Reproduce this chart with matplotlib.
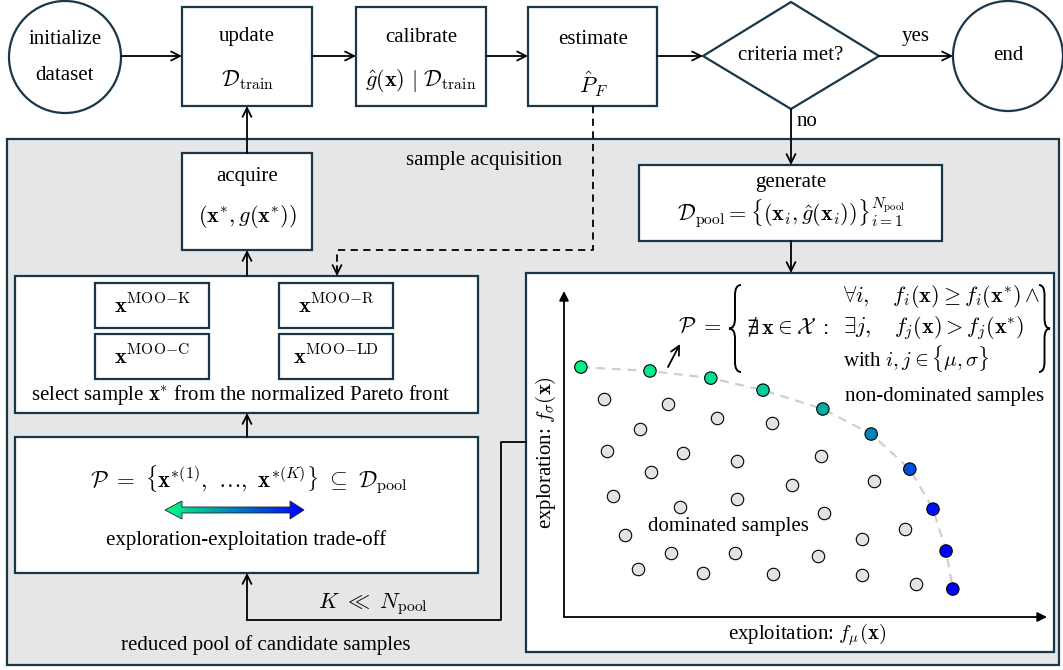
import numpy as np
import matplotlib.pyplot as plt
from matplotlib.colors import Normalize
from matplotlib.patches import Rectangle, Circle, Polygon, PathPatch
from matplotlib.path import Path

plt.rcParams['font.family'] = 'Liberation Serif'
plt.rcParams['mathtext.fontset'] = 'cm'

# candidate samples in the (exploitation, exploration) objective space
front_mu = [0.035, 0.178, 0.304, 0.412, 0.536, 0.636, 0.716, 0.764, 0.791, 0.805]
front_sigma = [0.769, 0.757, 0.735, 0.698, 0.640, 0.563, 0.455, 0.332, 0.203, 0.086]
dominated_mu = [0.083, 0.215, 0.317, 0.431, 0.157, 0.089, 0.246, 0.358, 0.532,
                0.180, 0.472, 0.642, 0.101, 0.358, 0.240, 0.538, 0.126, 0.706,
                0.617, 0.222, 0.354, 0.526, 0.153, 0.288, 0.433, 0.617, 0.729]
dominated_sigma = [0.671, 0.655, 0.612, 0.597, 0.578, 0.511, 0.505, 0.480, 0.495,
                   0.446, 0.406, 0.418, 0.372, 0.363, 0.338, 0.320, 0.252, 0.271,
                   0.240, 0.197, 0.197, 0.188, 0.148, 0.135, 0.132, 0.129, 0.102]

moo_labels = ['K', 'C', 'R', 'LD']

EDGE = '#1b3646'
FS = 15    # running text
MS = 16    # formulas
W, H = 1063, 670

fig = plt.figure(figsize=(W / 100, H / 100), dpi=100)
ax = fig.add_axes([0, 0, 1, 1])
ax.axis('off')


def box(x0, y0, x1, y1, fc='white', z=2):
    ax.add_patch(Rectangle((x0, y0), x1 - x0, y1 - y0, facecolor=fc,
                           edgecolor=EDGE, lw=1.6, zorder=z))


def arrow(p0, p1, style='->', ms=16):
    ax.annotate('', xy=p1, xytext=p0, zorder=4,
                arrowprops=dict(arrowstyle=style, color='k', lw=1.3,
                                shrinkA=0, shrinkB=0, mutation_scale=ms))


def label(x, y, s, size=FS, **kw):
    ax.text(x, y, s, fontsize=size, ha='center', va='center', zorder=5, **kw)


def brace(x_tip, x_end, y0, y1, w=10):
    xm = (x_tip + x_end) / 2
    ym = (y0 + y1) / 2
    verts = [(x_end, y0), (xm, y0), (xm, y0 + w), (xm, ym - w),
             (xm, ym), (x_tip, ym), (xm, ym), (xm, ym + w),
             (xm, y1 - w), (xm, y1), (x_end, y1)]
    codes = [Path.MOVETO, Path.CURVE3, Path.CURVE3, Path.LINETO,
             Path.CURVE3, Path.CURVE3, Path.CURVE3, Path.CURVE3,
             Path.LINETO, Path.CURVE3, Path.CURVE3]
    ax.add_patch(PathPatch(Path(verts, codes), fill=False, lw=1.4,
                           edgecolor='k', zorder=5))


# top row of the loop
ax.add_patch(Circle((65, 57), 56, facecolor='white', edgecolor=EDGE, lw=1.6, zorder=2))
label(65, 40, 'initialize')
label(65, 75, 'dataset')

box(182, 7, 312, 106)
label(247, 37, 'update')
label(247, 80, r'$\mathcal{D}_{\mathrm{train}}$', MS)

box(356, 7, 486, 106)
label(421, 37, 'calibrate')
label(421, 80, r'$\hat{g}(\mathbf{x})\ |\ \mathcal{D}_{\mathrm{train}}$', MS)

box(528, 7, 657, 106)
label(593, 39, 'estimate')
label(593, 84, r'$\hat{P}_F$', MS)

ax.add_patch(Polygon([(703, 56), (791, 2), (879, 56), (791, 109)], closed=True,
                     facecolor='white', edgecolor=EDGE, lw=1.6, zorder=2))
label(791, 56, 'criteria met?')

ax.add_patch(Circle((1008, 56), 55, facecolor='white', edgecolor=EDGE, lw=1.6, zorder=2))
label(1008, 56, 'end')

arrow((121, 56), (182, 56))
arrow((312, 56), (356, 56))
arrow((486, 56), (528, 56))
arrow((657, 56), (703, 56))
arrow((879, 56), (953, 56))
label(916, 37, 'yes')
label(807, 122, 'no')

# sample acquisition panel
box(7, 139, 1059, 665, fc='#e6e6e6', z=1)
label(484, 160, 'sample acquisition')

box(182, 153, 312, 250)
label(247, 177, 'acquire')
label(247, 217, r'$(\mathbf{x}^{*}, g(\mathbf{x}^{*}))$', MS)
arrow((247, 153), (247, 106))
arrow((791, 109), (791, 165))

box(15, 276, 478, 413)
for i, name in enumerate(moo_labels):
    x0 = 95 if i < 2 else 279
    y0 = 283 if i % 2 == 0 else 334
    box(x0, y0, x0 + 114, y0 + 45, z=3)
    label(x0 + 57, y0 + 23, r'$\mathbf{x}^{\mathrm{MOO{-}%s}}$' % name, MS)
label(241, 395, r'select sample $\mathbf{x}^{*}$ from the normalized Pareto front')
arrow((247, 276), (247, 250))

# dashed link from the estimate to the selection
ax.plot([593, 593, 337, 337], [106, 250, 250, 268], color='k', lw=1.3,
        ls=(0, (4, 3)), zorder=4)
arrow((337, 266), (337, 276))

box(15, 437, 478, 573)
label(249, 480, r'$\mathcal{P}\ =\ \left\{\mathbf{x}^{*(1)},\ \ldots,\ \mathbf{x}^{*(K)}\right\}\ \subseteq\ \mathcal{D}_{\mathrm{pool}}$', 16.5)
label(246, 540, 'exploration-exploitation trade-off')
arrow((247, 437), (247, 413))

# colour-graded double arrow for the trade-off
shape = Polygon([(165, 510), (182, 501), (182, 507), (290, 507), (290, 501),
                 (304, 510), (290, 519), (290, 513), (182, 513), (182, 519)],
                closed=True, facecolor='none', edgecolor='#222222', lw=0.6, zorder=5)
ax.add_patch(shape)
grad = ax.imshow(np.linspace(0, 1, 256)[None, :], cmap='winter_r',
                 extent=(165, 304, 519, 501), aspect='auto', zorder=4)
grad.set_clip_path(shape)

box(639, 165, 942, 241)
label(791, 182, 'generate')
label(791, 213, r'$\mathcal{D}_{\mathrm{pool}} = \{(\mathbf{x}_i, \hat{g}(\mathbf{x}_i))\}_{i=1}^{N_{\mathrm{pool}}}$', MS)
arrow((791, 241), (791, 273))

# objective space with the Pareto front
box(526, 273, 1054, 652)
arrow((564, 617), (1047, 617), style='-|>', ms=14)
arrow((564, 617), (564, 291), style='-|>', ms=14)
label(807, 635, r'exploitation: $f_{\mu}(\mathbf{x})$')
label(546, 453, r'exploration: $f_{\sigma}(\mathbf{x})$', rotation=90)

ax.plot([526, 501, 501, 247], [442, 442, 620, 620], color='k', lw=1.3, zorder=4)
arrow((247, 620), (247, 573))
label(373, 604, r'$K\ \ll\ N_{\mathrm{pool}}$', MS)
label(266, 645, 'reduced pool of candidate samples')

ax.text(722, 328, r'$\mathcal{P}\ =$', fontsize=MS, ha='right', va='center', zorder=5)
brace(729, 741, 285, 372)
ax.text(746, 328, r'$\nexists\,\mathbf{x} \in \mathcal{X}\ :$', fontsize=MS, ha='left', va='center', zorder=5)
ax.text(843, 296, r'$\forall i,\quad f_i(\mathbf{x}) \geq f_i(\mathbf{x}^{*}) \wedge$', fontsize=MS, ha='left', va='center', zorder=5)
ax.text(843, 328, r'$\exists j,\quad f_j(\mathbf{x}) > f_j(\mathbf{x}^{*})$', fontsize=MS, ha='left', va='center', zorder=5)
ax.text(843, 359, r'with $i, j \in \{\mu, \sigma\}$', fontsize=FS, ha='left', va='center', zorder=5)
brace(1050, 1039, 285, 372)
arrow((668, 367), (680, 344))
label(945, 397, 'non-dominated samples')
label(728, 527, 'dominated samples')

ax.set_xlim(0, W)
ax.set_ylim(H, 0)

ox, oy, xr, yt = 564, 617, 1047, 292
sax = fig.add_axes([ox / W, 1 - oy / H, (xr - ox) / W, (oy - yt) / H])
sax.set_xlim(0, 1)
sax.set_ylim(0, 1)
sax.axis('off')
sax.plot(front_mu, front_sigma, color='#cfcfcf', lw=1.6, ls=(0, (4, 3)), zorder=1)
sax.scatter(dominated_mu, dominated_sigma, s=80, c='#e3e3e3', edgecolors='k',
            linewidths=0.8, zorder=2, clip_on=False)
sax.scatter(front_mu, front_sigma, s=80, c=front_sigma, cmap='winter',
            norm=Normalize(0.3, 0.8, clip=True), edgecolors='k',
            linewidths=0.8, zorder=3, clip_on=False)

fig.savefig('out.png', dpi=100)
